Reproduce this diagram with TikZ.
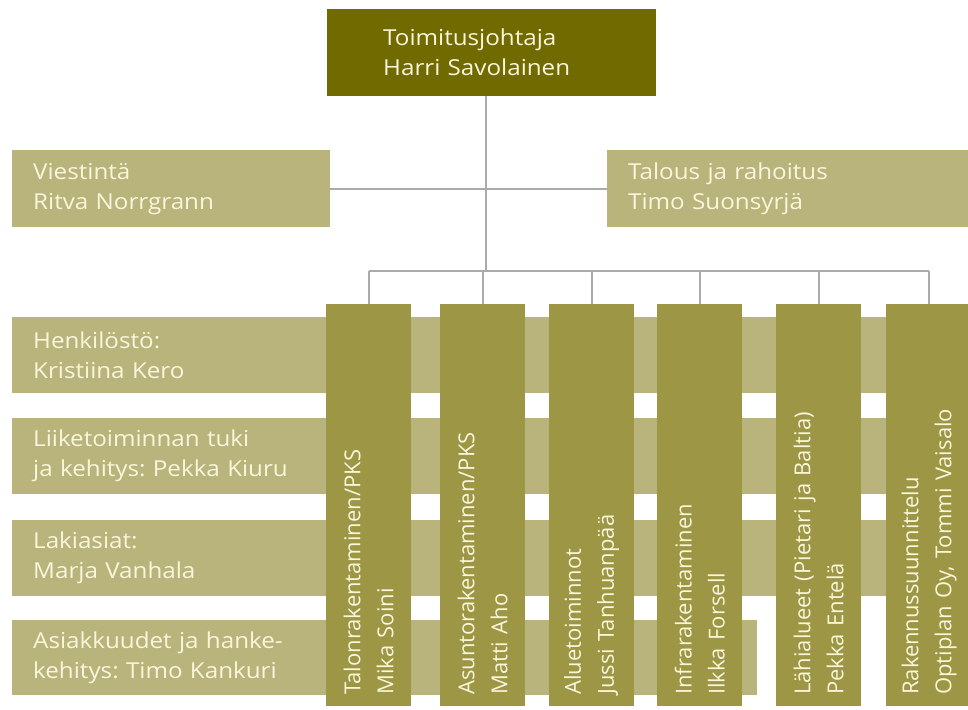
\documentclass[tikz,border=0pt]{standalone}
\usepackage{fontspec}
\setmainfont{Open Sans}
\newfontfamily\widesans{Open Sans}[FakeStretch=1.1]
\definecolor{ceo}{HTML}{706A00}
\definecolor{unit}{HTML}{9C9645}
\definecolor{staff}{HTML}{B8B47C}
\definecolor{txt}{HTML}{FAF6DC}
\definecolor{wire}{HTML}{A9A9AE}
\tikzset{
  every node/.style={text=txt},
  htext/.style={font=\widesans\fontsize{22}{30}\selectfont\frenchspacing},
  vtext/.style={font=\fontsize{22}{33}\selectfont\frenchspacing},
  hbox/.style={htext, fill=staff, draw=none, anchor=north west, align=left,
    inner xsep=21pt, inner ysep=0pt, minimum height=77pt},
  vbox/.style={vtext, fill=unit, draw=none, rotate=90, anchor=north west, align=left,
    inner xsep=11pt, inner ysep=0pt, minimum height=85pt, text width=380pt},
  wireline/.style={draw=wire, line width=1.6pt},
}
\begin{document}
\begin{tikzpicture}[x=1pt, y=-1pt]
\clip (0,0) rectangle (968,709);
\fill[white] (0,0) rectangle (968,709);

% junction points of the connector tree
\coordinate (bus) at (486,271);
\coordinate (side) at (486,189);

% staff functions, long bars behind the unit columns
\node[hbox, text width=276pt] (vies) at (12,150) {Viestintä\\Ritva Norrgrann};
\node[hbox, text width=350pt] (tal) at (607,150) {Talous ja rahoitus\\Timo Suonsyrjä};
\node[hbox, text width=914pt, minimum height=76pt] (henk) at (12,317) {Henkilöstö:\\Kristiina Kero};
\node[hbox, text width=914pt, minimum height=76pt] (liik) at (12,418) {Liiketoiminnan tuki\\ja kehitys: Pekka Kiuru};
\node[hbox, text width=914pt, minimum height=76pt] (laki) at (12,520) {Lakiasiat:\\Marja Vanhala};
\node[hbox, text width=703pt, minimum height=75pt] (asia) at (12,620) {Asiakkuudet ja hanke-\\kehitys: Timo Kankuri};

% managing director
\node[htext, fill=ceo, anchor=north west, align=left, inner xsep=56pt, inner ysep=0pt,
  minimum height=87pt, text width=217pt] (ceo) at (327,9) {Toimitusjohtaja\\Harri Savolainen};

% business units (rotated columns, anchored at their lower left corner)
\node[vbox] (u1) at (326,706) {Talonrakentaminen/PKS\\Mika Soini};
\node[vbox] (u2) at (440,706) {Asuntorakentaminen/PKS\\Matti Aho};
\node[vbox] (u3) at (549,706) {Aluetoiminnot\\Jussi Tanhuanpää};
\node[vbox] (u4) at (657,706) {Infrarakentaminen\\Ilkka Forsell};
\node[vbox] (u5) at (776,706) {Lähialueet (Pietari ja Baltia)\\Pekka Entelä};
\node[vbox, minimum height=86pt] (u6) at (886,706) {Rakennussuunnittelu\\Optiplan Oy, Tommi Vaisalo};

% connectors
\draw[wireline] (ceo.south -| side) -- (bus);
\draw[wireline] (vies.east |- side) -- (tal.west |- side);
\draw[wireline] (u1.east |- bus) -- (u6.east |- bus);
\foreach \u in {u1,u2,u3,u4,u5,u6}
  \draw[wireline] (\u.east |- bus) -- (\u.east);
\end{tikzpicture}
\end{document}
